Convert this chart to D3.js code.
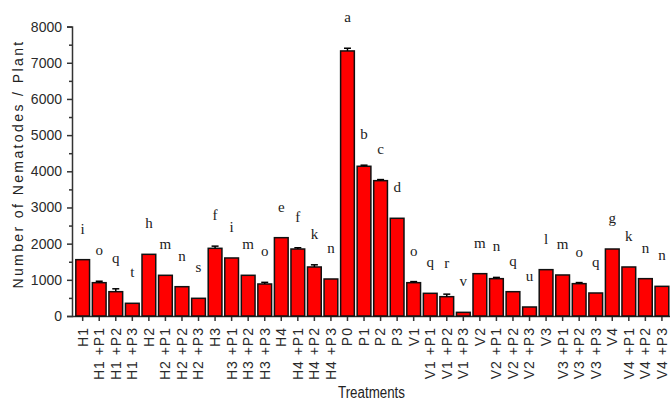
<!DOCTYPE html>
<html>
<head>
<meta charset="utf-8">
<script src="https://cdn.jsdelivr.net/npm/d3@7"></script>
<style>
  body { margin: 0; background: #fff; }
  svg { display: block; }
</style>
</head>
<body>
<div id="chart"></div>
<script>
// values
const categories = ["H1", "H1 +P1", "H1 +P2", "H1 +P3", "H2", "H2 +P1", "H2 +P2", "H2 +P3",
    "H3", "H3 +P1", "H3 +P2", "H3 +P3", "H4", "H4 +P1", "H4 +P2", "H4 +P3",
    "P0", "P1", "P2", "P3",
    "V1", "V1 +P1", "V1 +P2", "V1 +P3", "V2", "V2 +P1", "V2 +P2", "V2 +P3",
    "V3", "V3 +P1", "V3 +P2", "V3 +P3", "V4", "V4 +P1", "V4 +P2", "V4 +P3"];
const means = [1557, 921, 672, 351, 1705, 1125, 810, 489,
    1871, 1604, 1125, 885, 2165, 1852, 1355, 1023,
    7327, 4139, 3741, 2701,
    921, 627, 534, 101, 1170, 1032, 672, 249,
    1281, 1134, 894, 636, 1852, 1355, 1032, 820];
const errors = [0, 40, 80, 0, 0, 0, 0, 0,
    60, 0, 0, 45, 0, 35, 60, 0,
    75, 30, 30, 0,
    30, 0, 70, 0, 0, 35, 0, 0,
    0, 0, 30, 0, 0, 0, 0, 0];
const letters = ["i", "o", "q", "t", "h", "m", "n", "s",
    "f", "i", "m", "o", "e", "f", "k", "n",
    "a", "b", "c", "d",
    "o", "q", "r", "v", "m", "n", "q", "u",
    "l", "m", "o", "q", "g", "k", "n", "n"];
const yTicks = [0, 1000, 2000, 3000, 4000, 5000, 6000, 7000, 8000];
const yMinor = [500, 1500, 2500, 3500, 4500, 5500, 6500, 7500];

const data = categories.map((c, i) => ({
    name: c, mean: means[i], err: errors[i], letter: letters[i]
}));

let width = 670, height = 405;
let axisColor = "#333";

let svg = d3.select("#chart")
    .append("svg")
    .attr("width", width)
    .attr("height", height);

let x = d3.scaleBand()
    .domain(categories)
    .range([74.4, 670.2])
    .paddingInner(0.17)
    .paddingOuter(0.085);

let y = d3.scaleLinear()
    .domain([0, 8000])
    .range([316, 26.6]);

// y axis, major ticks with labels
svg.append("g")
    .attr("transform", "translate(72,0)")
    .call(d3.axisLeft(y).tickValues(yTicks).tickSize(5).tickPadding(5).tickFormat(d3.format("d")));

// minor ticks
svg.append("g")
    .attr("transform", "translate(72,0)")
    .call(d3.axisLeft(y).tickValues(yMinor).tickSize(3).tickFormat(""))
    .call(g => g.select(".domain").remove());

// x axis
let xAxis = svg.append("g")
    .attr("transform", "translate(0,316)")
    .call(d3.axisBottom(x).tickSize(5).tickSizeOuter(0));

xAxis.select(".domain").attr("d", "M72,0.5H670");

xAxis.selectAll("text")
    .attr("transform", "rotate(-90)")
    .attr("x", -11)
    .attr("y", 0)
    .attr("dy", "0.35em")
    .attr("text-anchor", "end")
    .style("letter-spacing", "1px");

svg.selectAll(".tick text")
    .attr("fill", "#2a2a2a")
    .style("font-family", "'Liberation Sans', Arial, sans-serif")
    .style("font-size", "14px");

svg.selectAll(".domain, .tick line")
    .attr("stroke", axisColor)
    .attr("stroke-width", 1.5);

// bars
svg.append("g")
    .selectAll("rect")
    .data(data)
    .enter()
    .append("rect")
    .attr("x", d => x(d.name))
    .attr("y", d => y(d.mean))
    .attr("width", x.bandwidth())
    .attr("height", d => y(0) - y(d.mean))
    .attr("fill", "#ff0000")
    .attr("stroke", "#111")
    .attr("stroke-width", 1.5);

// error bars
let errs = svg.append("g")
    .selectAll("g")
    .data(data.filter(d => d.err > 0))
    .enter()
    .append("g")
    .attr("stroke", "#000")
    .attr("stroke-width", 1.5);

errs.append("line")
    .attr("x1", d => x(d.name) + x.bandwidth() / 2)
    .attr("x2", d => x(d.name) + x.bandwidth() / 2)
    .attr("y1", d => y(d.mean))
    .attr("y2", d => y(d.mean + d.err));

errs.append("line")
    .attr("x1", d => x(d.name) + x.bandwidth() / 2 - 3.5)
    .attr("x2", d => x(d.name) + x.bandwidth() / 2 + 3.5)
    .attr("y1", d => y(d.mean + d.err))
    .attr("y2", d => y(d.mean + d.err));

// significance letters
svg.append("g")
    .selectAll("text")
    .data(data)
    .enter()
    .append("text")
    .attr("x", d => x(d.name) + x.bandwidth() / 2)
    .attr("y", d => y(d.mean + d.err) - 26)
    .attr("text-anchor", "middle")
    .attr("fill", "#222")
    .style("font-family", "'Liberation Serif', 'Times New Roman', serif")
    .style("font-size", "15px")
    .text(d => d.letter);

// axis titles
svg.append("text")
    .attr("transform", "translate(23,164) rotate(-90)")
    .attr("text-anchor", "middle")
    .attr("fill", "#222")
    .style("font-family", "'Liberation Sans', Arial, sans-serif")
    .style("font-size", "14px")
    .style("letter-spacing", "2.4px")
    .text("Number of Nematodes / Plant");

svg.append("text")
    .attr("x", 338)
    .attr("y", 398)
    .attr("textLength", 67)
    .attr("lengthAdjust", "spacingAndGlyphs")
    .attr("fill", "#222")
    .style("font-family", "'Liberation Sans', Arial, sans-serif")
    .style("font-size", "16px")
    .text("Treatments");
</script>
</body>
</html>
